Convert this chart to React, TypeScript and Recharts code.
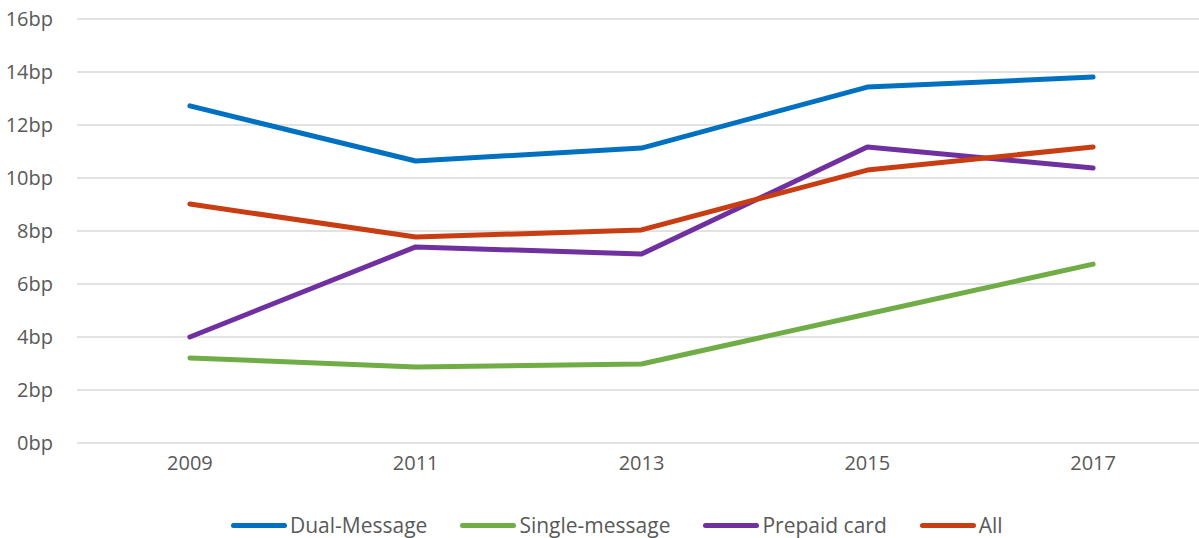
import React from "react";
import { LineChart, Line, XAxis, YAxis, CartesianGrid } from "recharts";

const YEARS = [2009, 2011, 2013, 2015, 2017];
const DUAL_MESSAGE = [12.72, 10.64, 11.13, 13.43, 13.81];
const SINGLE_MESSAGE = [3.21, 2.87, 2.98, 4.87, 6.75];
const PREPAID_CARD = [4.0, 7.4, 7.13, 11.17, 10.38];
const ALL = [9.02, 7.77, 8.04, 10.3, 11.17];
const Y_TICKS = [0, 2, 4, 6, 8, 10, 12, 14, 16];

const SERIES = [
  { key: "dual", name: "Dual-Message", color: "#0070C0" },
  { key: "single", name: "Single-message", color: "#70AD47" },
  { key: "prepaid", name: "Prepaid card", color: "#7030A0" },
  { key: "all", name: "All", color: "#C83D12" },
];

const data = YEARS.map((year, i) => ({
  year,
  dual: DUAL_MESSAGE[i],
  single: SINGLE_MESSAGE[i],
  prepaid: PREPAID_CARD[i],
  all: ALL[i],
}));

const FONT = "'Open Sans', 'Noto Sans', sans-serif";
const TEXT = "#595959";

const App: React.FC = () => {
  return (
    <div
      style={{
        position: "absolute",
        left: 0,
        top: 0,
        width: 1199,
        height: 538,
        overflow: "hidden",
        background: "#fff",
        fontFamily: FONT,
      }}
    >
      <LineChart
        width={1220}
        height={538}
        data={data}
        margin={{ top: 19, right: 14, left: 0, bottom: 0 }}
      >
        <CartesianGrid vertical={false} stroke="#D9D9D9" strokeWidth={1.5} />
        <XAxis
          dataKey="year"
          type="number"
          domain={[2008, 2018]}
          ticks={YEARS}
          axisLine={false}
          tickLine={false}
          tickSize={0}
          tickMargin={13}
          height={95}
          tick={{ fill: TEXT, fontSize: 20, fontFamily: FONT }}
        />
        <YAxis
          domain={[0, 16]}
          ticks={Y_TICKS}
          tickFormatter={(v) => `${v}bp`}
          axisLine={false}
          tickLine={false}
          tickSize={0}
          tickMargin={24}
          width={77}
          tick={{ fill: TEXT, fontSize: 20, fontFamily: FONT }}
        />
        {SERIES.map((s) => (
          <Line
            key={s.key}
            type="linear"
            dataKey={s.key}
            name={s.name}
            stroke={s.color}
            strokeWidth={5}
            strokeLinecap="round"
            strokeLinejoin="round"
            dot={false}
            isAnimationActive={false}
          />
        ))}
      </LineChart>
      {/* legend */}
      <div
        style={{
          position: "absolute",
          top: 511,
          left: 231,
          display: "flex",
          alignItems: "center",
          height: 28,
          fontSize: 21,
          color: TEXT,
          whiteSpace: "nowrap",
        }}
      >
        {SERIES.map((s) => (
          <div key={s.key} style={{ display: "flex", alignItems: "center", marginRight: 33 }}>
            <span
              style={{
                display: "inline-block",
                width: 56,
                height: 5,
                borderRadius: 3,
                background: s.color,
                marginRight: 3,
              }}
            />
            <span>{s.name}</span>
          </div>
        ))}
      </div>
    </div>
  );
};

export default App;
